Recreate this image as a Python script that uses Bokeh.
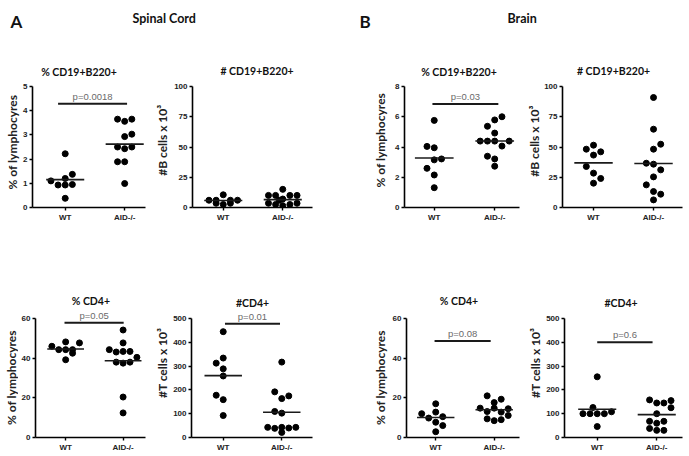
import math
from bokeh.plotting import figure
from bokeh.layouts import column, row
from bokeh.models import FixedTicker, Range1d, Label
from bokeh.embed import file_html
from bokeh.resources import INLINE

groups = ["WT", "AID-/-"]

# ---------------- data ----------------
# Spinal cord, % CD19+B220+
sc_pctB_wt = [2.22, 1.10, 0.93, 0.93, 1.20, 1.37, 0.95, 0.38]
sc_pctB_aid = [3.65, 3.56, 3.65, 2.93, 3.03, 2.50, 2.43, 2.50, 1.89, 1.89, 0.99]
sc_pctB_mean = [1.15, 2.62]
sc_pctB_p = ["p=0.0018", 4.29]
# Spinal cord, # CD19+B220+
sc_numB_wt = [6.0, 6.0, 10.5, 6.0, 6.0, 3.5, 2.5, 3.5]
sc_numB_aid = [10.0, 10.0, 15.0, 10.0, 3.5, 2.5, 7.0, 2.5, 3.5, 1.5, 6.0, 10.0]
sc_numB_mean = [5.8, 6.5]
# Brain, % CD19+B220+
br_pctB_wt = [5.76, 4.04, 3.95, 3.15, 3.21, 2.59, 2.15, 1.31]
br_pctB_aid = [5.37, 5.79, 6.00, 4.92, 4.39, 4.39, 4.39, 4.06, 4.39, 3.39, 3.21, 2.73]
br_pctB_mean = [3.27, 4.40]
br_pctB_p = ["p=0.03", 6.85]
# Brain, # CD19+B220+
br_numB_wt = [48.2, 51.5, 46.0, 43.3, 33.9, 28.4, 24.0, 20.1]
br_numB_aid = [90.9, 64.7, 52.3, 48.2, 36.6, 35.8, 31.1, 25.3, 18.7, 13.2, 11.0, 6.3]
br_numB_mean = [36.9, 36.4]
# Spinal cord, % CD4+
sc_pctT_wt = [46.0, 44.3, 48.2, 44.3, 44.3, 42.5, 47.7, 39.2]
sc_pctT_aid = [54.2, 47.7, 44.3, 43.1, 43.4, 43.4, 40.4, 38.0, 37.5, 38.0, 20.4, 12.4]
sc_pctT_mean = [44.6, 38.7]
sc_pctT_p = ["p=0.05", 57.9]
# Spinal cord, # CD4+
sc_numT_wt = [444.6, 312.5, 333.8, 288.4, 258.5, 177.6, 159.1, 92.3]
sc_numT_aid = [316.8, 191.8, 163.4, 174.7, 109.4, 102.3, 42.6, 38.4, 42.6, 39.8, 42.6, 21.3]
sc_numT_mean = [260.0, 106.0]
sc_numT_p = ["p=0.01", 478.0]
# Brain, % CD4+
br_pctT_wt = [12.0, 17.0, 9.8, 12.8, 10.5, 7.7, 6.0, 2.9]
br_pctT_aid = [21.0, 17.6, 19.3, 14.8, 13.1, 14.8, 12.8, 14.5, 9.4, 8.5, 9.0, 11.1]
br_pctT_mean = [10.1, 14.0]
br_pctT_p = ["p=0.08", 48.6]
# Brain, # CD4+
br_numT_wt = [255.0, 126.0, 100.0, 100.0, 100.0, 100.0, 108.0, 46.0]
br_numT_aid = [158.0, 145.0, 145.0, 155.0, 125.0, 100.0, 68.0, 60.0, 68.0, 38.0, 30.0, 30.0]
br_numT_mean = [119.0, 96.0]
br_numT_p = ["p=0.6", 400.0]

titles = ["% CD19+B220+", "# CD19+B220+", "% CD19+B220+", "# CD19+B220+",
          "% CD4+", "#CD4+", "% CD4+", "#CD4+"]
ylabels = ["% of lymphocyres", "#B cells x 10\u00b3", "% of lymphocyres", "#B cells x 10\u00b3",
           "% of lymphocyres", "#T cells x 10\u00b3", "% of lymphocyres", "#T cells x 10\u00b3"]
yticks_pct_b_sc = [0, 1, 2, 3, 4, 5]
yticks_num_b = [0, 25, 50, 75, 100]
yticks_pct_b_br = [0, 2, 4, 6, 8]
yticks_pct_t = [0, 20, 40, 60]
yticks_num_t = [0, 100, 200, 300, 400, 500]
headers = [("A", "Spinal Cord"), ("B", "Brain")]

# ---------------- layout (positions / styles) ----------------
# per column: (label-fig width, label centre x in it, panel width, left border, frame width)
TOP_COLS = [(20, 11.5, 132, 11, 114), (19, 10, 159, 20, 121), (62, 50, 134, 11, 116), (15, 7.5, 148, 21, 120)]
BOT_COLS = [(18, 11, 134, 14, 113), (18, 10, 160, 20, 122), (59, 50, 137, 14, 116), (17, 8.5, 146, 20, 119)]
HEADER_H = 38
TOP_H, TOP_HEAD, TOP_AX = 186, 48, 121     # row height, space above axis top, axis length
BOT_H, BOT_HEAD, BOT_AX = 231, 94, 119
ROW_TOP_PAGE = [HEADER_H, HEADER_H + TOP_H]
SLOT = 0.12
HALF = 0.32

panels = [
    dict(wt=sc_pctB_wt, aid=sc_pctB_aid, mean=sc_pctB_mean, p=sc_pctB_p, yt=yticks_pct_b_sc,
         xr=(0.45, 2.35), ws=[0, -2, -1, 0, 0, 1, 1, 0], as_=[-1, 0, 1, 0, 1, -1, 0, 1, -1, 0, 0],
         bar=(0.88, 2.04), tdx=-16, tdy=15, lab_y=152),
    dict(wt=sc_numB_wt, aid=sc_numB_aid, mean=sc_numB_mean, p=None, yt=yticks_num_b,
         xr=(0.483, 2.5), ws=[-2, -1, 0, 1, 2, -1, 0, 1], as_=[-2, -1, 0, 1, -2, -1, 0, 1, 2, 0, -0.5, 2],
         bar=None, tdx=4, tdy=16, lab_y=150),
    dict(wt=br_pctB_wt, aid=br_pctB_aid, mean=br_pctB_mean, p=br_pctB_p, yt=yticks_pct_b_br,
         xr=(0.508, 2.41), ws=[0, -1, 0, 0, 1, -1, 0, 0], as_=[-1, 0, 1, 0, -2, -1, 0, 1, 2, -1, 0, 0],
         bar=(0.97, 2.06), tdx=-5.5, tdy=15, lab_y=150),
    dict(wt=br_numB_wt, aid=br_numB_aid, mean=br_numB_mean, p=None, yt=yticks_num_b,
         xr=(0.483, 2.483), ws=[-1, 0, 1, 0, -1, 0, 1, 0], as_=[0, 0, 1, 0, -1, 0, 1, 0, -1, 0, 1, 0],
         bar=None, tdx=-10, tdy=16, lab_y=151),
    dict(wt=sc_pctT_wt, aid=sc_pctT_aid, mean=sc_pctT_mean, p=sc_pctT_p, yt=yticks_pct_t,
         xr=(0.475, 2.39), ws=[-2, -1, 0, 0, 1, 1, 2, 0], as_=[0, 0, -2, -1, 0, 1, 2, -1, 0, 1, 0, 0],
         bar=(0.98, 2.01), tdx=-3.5, tdy=18, lab_y=390),
    dict(wt=sc_numT_wt, aid=sc_numT_aid, mean=sc_numT_mean, p=sc_numT_p, yt=yticks_num_t,
         xr=(0.458, 2.525), ws=[0, -1, 0, 0, 0, -1, 0, 0], as_=[0, -1, 0, 1, -1, 0, -2, -1, 0, 1, 2, 0],
         bar=(1.03, 1.97), tdx=0, tdy=16, lab_y=374),
    dict(wt=br_pctT_wt, aid=br_pctT_aid, mean=br_pctT_mean, p=br_pctT_p, yt=yticks_pct_t,
         xr=(0.5, 2.433), ws=[-2, 0, -1, 0, 1, 0, 1, 0], as_=[-1, 0, 1, -2, -1, 0, 1, 2, -1, 0, 1, 2],
         bar=(0.98, 1.94), tdx=-6, tdy=18, lab_y=390),
    dict(wt=br_numT_wt, aid=br_numT_aid, mean=br_numT_mean, p=br_numT_p, yt=yticks_num_t,
         xr=(0.45, 2.433), ws=[0, -0.6, -2, -1, 0, 1, 2, 0], as_=[-1, 0, 1, 2, 2, 0, -1, 0, 1, -1, 0, 1],
         bar=(1.0, 1.93), tdx=-6, tdy=16, lab_y=374),
]

TITLE_FONT = "Lato"
TICK_FONT = "Liberation Sans"


def blank(w, h):
    f = figure(width=w, height=h, output_backend="svg", toolbar_location=None, title=None,
               x_range=Range1d(0, w), y_range=Range1d(0, h),
               x_axis_type=None, y_axis_type=None, min_border=0)
    f.outline_line_color = None
    f.xgrid.visible = False
    f.ygrid.visible = False
    return f


def make_label_fig(i, d, w, cx, h, top):
    f = blank(w, h)
    y_from_top = d["lab_y"] - ROW_TOP_PAGE[0 if top else 1]
    f.add_layout(Label(x=cx, y=h - y_from_top, text=ylabels[i], angle=math.pi / 2,
                       text_align="center", text_baseline="middle", text_font=TITLE_FONT,
                       text_font_style="bold", text_font_size="12px", text_color="#222222"))
    return f


def make_panel(i, d, W, lb, fw, top):
    H = TOP_H if top else BOT_H
    head = TOP_HEAD if top else BOT_HEAD
    ax = TOP_AX if top else BOT_AX
    y_top = d["yt"][-1]
    y_end = y_top * (ax + head) / ax
    p = figure(width=W, height=H, output_backend="svg", toolbar_location=None, title=None,
               x_range=Range1d(*d["xr"]), y_range=Range1d(0, y_end),
               min_border_left=lb, min_border_right=W - lb - fw,
               min_border_top=0, min_border_bottom=H - head - ax)
    p.outline_line_color = None
    p.xgrid.visible = False
    p.ygrid.visible = False

    p.xaxis.ticker = FixedTicker(ticks=[1, 2])
    p.xaxis.major_label_overrides = {1: groups[0], 2: groups[1]}
    p.yaxis.ticker = FixedTicker(ticks=d["yt"])
    p.yaxis.bounds = (0, y_top)
    for a in (p.xaxis, p.yaxis):
        a.axis_line_width = 1.6
        a.axis_line_color = "black"
        a.major_tick_line_width = 1.4
        a.major_tick_line_color = "black"
        a.major_tick_out = 3
        a.major_tick_in = 0
        a.minor_tick_line_color = None
        a.major_label_text_font = TICK_FONT
        a.major_label_text_font_style = "bold"
        a.major_label_text_font_size = "8px"
        a.major_label_text_color = "#222222"
        a.major_label_standoff = 2

    xw = [1 + s * SLOT for s in d["ws"]]
    xa = [2 + s * SLOT for s in d["as_"]]
    p.scatter(xw + xa, d["wt"] + d["aid"], size=6, color="black")
    p.segment(x0=[1 - HALF, 2 - HALF], x1=[1 + HALF, 2 + HALF], y0=d["mean"], y1=d["mean"],
              line_width=1.6, line_color="#1a1a1a")
    if d["p"] is not None:
        txt, yb = d["p"]
        x0, x1 = d["bar"]
        p.segment(x0=[x0], x1=[x1], y0=[yb], y1=[yb], line_width=2, line_color="#1a1a1a")
        p.add_layout(Label(x=(x0 + x1) / 2, y=yb, y_offset=2, text=txt, text_align="center",
                           text_baseline="bottom", text_font=TICK_FONT, text_font_size="9.5px",
                           text_color="#6a6a6a"))
    p.add_layout(Label(x=1.5, y=y_top, x_offset=d["tdx"], y_offset=d["tdy"], text=titles[i],
                       text_align="center", text_baseline="middle", text_font=TITLE_FONT,
                       text_font_style="bold", text_font_size="10.5px", text_color="#111111"))
    return p


def build_row(idx, cols, top):
    H = TOP_H if top else BOT_H
    items = []
    for c, i in enumerate(idx):
        lw, cx, W, lb, fw = cols[c]
        items.append(make_label_fig(i, panels[i], lw, cx, H, top))
        items.append(make_panel(i, panels[i], W, lb, fw, top))
    return row(*items, spacing=0)


total_w = sum(c[0] + c[2] for c in TOP_COLS)
header = blank(total_w, HEADER_H)
for (letter, name), lx, nx in zip(headers, [10, 359], [132, 507]):
    header.add_layout(Label(x=lx, y=HEADER_H - 21, text=letter, text_font=TITLE_FONT,
                            text_font_style="bold", text_font_size="17px", text_color="#111111",
                            text_baseline="alphabetic"))
    header.add_layout(Label(x=nx, y=HEADER_H - 18, text=name, text_font=TITLE_FONT,
                            text_font_style="bold", text_font_size="12.5px", text_color="#111111",
                            text_baseline="alphabetic"))

layout = column(header, build_row([0, 1, 2, 3], TOP_COLS, True),
                build_row([4, 5, 6, 7], BOT_COLS, False), spacing=0)
open("out.html", "w").write(file_html(layout, INLINE))
